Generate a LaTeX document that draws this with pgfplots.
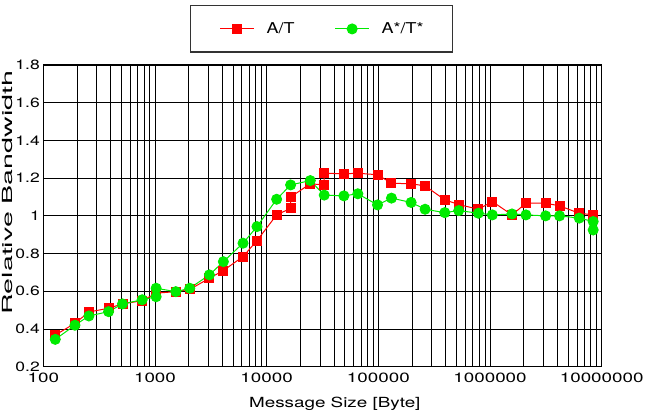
\documentclass[border=0pt]{standalone}
\usepackage{fontspec}
\setmainfont{TeX Gyre Heros}
\newfontfamily\xtickfont{TeX Gyre Heros}[FakeStretch=1.4]
\newfontfamily\ytickfont{TeX Gyre Heros}[FakeStretch=1.3]
\newfontfamily\xlabfont{TeX Gyre Heros}[FakeStretch=1.35]
\newfontfamily\ylabfont{TeX Gyre Heros}[FakeStretch=2.05]
\newfontfamily\legfont{TeX Gyre Heros}[FakeStretch=1.2]
\usepackage{pgfplots}
\pgfplotsset{compat=1.18}
\definecolor{myred}{RGB}{255,0,0}
\definecolor{mygreen}{RGB}{0,235,0}
\begin{document}
\begin{tikzpicture}
\begin{axis}[
  at={(0,0)}, anchor=south west,
  width=558.4bp, height=301.7bp, scale only axis,
  xmode=log, xmin=100, xmax=1e7, ymin=0.2, ymax=1.8,
  /pgf/number format/assume math mode=true,
  xtick={100,1000,10000,100000,1000000,10000000},
  xticklabels={100,1000,10000,100000,1000000,10000000},
  minor xtick={200,300,400,500,600,700,800,900,
    2000,3000,4000,5000,6000,7000,8000,9000,
    20000,30000,40000,50000,60000,70000,80000,90000,
    200000,300000,400000,500000,600000,700000,800000,900000,
    2000000,3000000,4000000,5000000,6000000,7000000,8000000,9000000},
  ytick={0.2,0.4,0.6,0.8,1,1.2,1.4,1.6,1.8},
  yticklabels={0.2,0.4,0.6,0.8,1,1.2,1.4,1.6,1.8},
  grid=both,
  major grid style={black, line width=0.8bp},
  minor grid style={black, line width=0.8bp},
  axis line style={black, line width=1bp},
  tick style={black, line width=0.8bp},
  xticklabel style={font=\xtickfont\fontsize{13.5}{14}\selectfont},
  xticklabel shift=2.5bp,
  yticklabel style={font=\ytickfont\fontsize{13.5}{14}\selectfont},
  xlabel={Message Size [Byte]},
  ylabel={Relative Bandwidth},
  xlabel style={font=\xlabfont\fontsize{14}{16}\selectfont, at={(axis description cs:0.522,-0.1336)}, anchor=base},
  ylabel style={font=\ylabfont\fontsize{14}{16}\selectfont, at={(axis description cs:-0.0560,0.577)}, anchor=base},
  legend columns=2,
  legend style={at={(axis description cs:0.2627,1.1989)}, anchor=north west,
    draw=black!80, line width=1.5bp,
    font=\legfont\fontsize{15}{17}\selectfont,
    inner xsep=29bp, inner ysep=17bp,
    nodes={inner sep=0bp},
    /tikz/every even column/.append style={column sep=40bp},
    /tikz/every odd column/.append style={column sep=12bp}},
  legend image code/.code={\draw[mark repeat=2,mark phase=2,#1] plot coordinates {(0bp,0bp) (17bp,0bp) (34bp,0bp)};},
]
\addplot[color=myred, line width=1bp, mark=square*, mark size=4.5bp, mark options={solid, fill=myred, draw=myred}] coordinates {
(128,0.368) (192,0.43) (256,0.49) (384,0.51) (512,0.533) (768,0.55)
(1024,0.59) (1536,0.598) (2048,0.61) (3072,0.669) (4096,0.71) (6144,0.784)
(8192,0.869) (12288,1.005) (16384,1.04) (16384,1.10) (24576,1.17)
(32768,1.164) (32768,1.226) (49152,1.223) (65536,1.226) (98304,1.218)
(131072,1.173) (196608,1.17) (262144,1.159) (393216,1.085) (524288,1.06)
(786432,1.035) (1048576,1.076) (1572864,1.005) (2097152,1.067) (3145728,1.067)
(4194304,1.053) (6291456,1.014) (8388608,1.005)
};
\addlegendentry{A/T}
\addplot[color=mygreen, line width=1bp, mark=*, mark size=5bp, mark options={solid, fill=mygreen, draw=mygreen}] coordinates {
(128,0.345) (192,0.42) (256,0.469) (384,0.492) (512,0.533) (768,0.555)
(1024,0.571) (1024,0.616) (1536,0.598) (2048,0.616) (3072,0.687) (4096,0.757)
(6144,0.855) (8192,0.943) (12288,1.088) (16384,1.164) (24576,1.187)
(32768,1.11) (49152,1.106) (65536,1.117) (98304,1.058) (131072,1.094)
(196608,1.071) (262144,1.035) (393216,1.017) (524288,1.028) (786432,1.014)
(1048576,1.005) (1572864,1.01) (2097152,1.005) (3145728,1.0) (4194304,1.0)
(6291456,0.988) (8388608,0.97) (8388608,0.925)
};
\addlegendentry{A*/T*}
\end{axis}
\pgfresetboundingbox
\path[use as bounding box] (-43.3bp,-50.3bp) rectangle (603.7bp,366.7bp);
\end{tikzpicture}
\end{document}
